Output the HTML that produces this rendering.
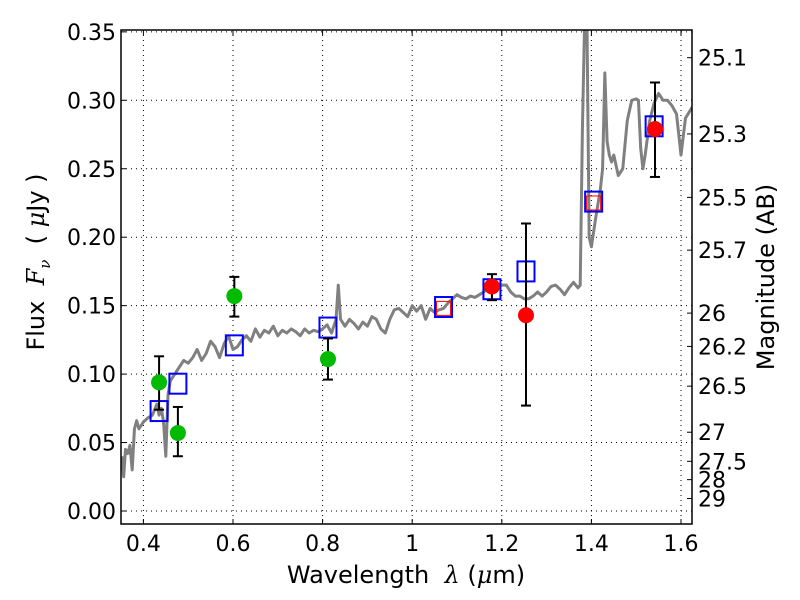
<!DOCTYPE html>
<html><head><meta charset="utf-8"><style>
body{margin:0;background:#fff}
svg{display:block;font-family:"DejaVu Sans","Liberation Sans",sans-serif}
</style></head><body>
<svg id="c" width="800" height="600" viewBox="0 0 800 600"></svg>
<script>
const xTicks=[0.4,0.6,0.8,1.0,1.2,1.4,1.6];
const xTickLabels=["0.4","0.6","0.8","1","1.2","1.4","1.6"];
const yTicks=[0,0.05,0.10,0.15,0.20,0.25,0.30,0.35];
const yTickLabels=["0.00","0.05","0.10","0.15","0.20","0.25","0.30","0.35"];
const magTicks=[25.1,25.3,25.5,25.7,26,26.2,26.5,27,27.5,28,29];
const magLabels=["25.1","25.3","25.5","25.7","26","26.2","26.5","27","27.5","28","29"];
const specWave=[0.352,0.356,0.36,0.365,0.37,0.375,0.38,0.385,0.39,0.40,0.41,0.42,0.43,0.435,0.44,0.445,0.45,0.455,0.46,0.47,0.48,0.49,0.50,0.51,0.52,0.53,0.54,0.55,0.56,0.57,0.58,0.59,0.60,0.61,0.62,0.63,0.64,0.65,0.66,0.67,0.68,0.69,0.70,0.71,0.72,0.73,0.74,0.75,0.76,0.77,0.78,0.79,0.80,0.81,0.82,0.83,0.835,0.84,0.85,0.86,0.87,0.88,0.89,0.90,0.91,0.92,0.93,0.94,0.95,0.96,0.97,0.98,0.99,1.00,1.01,1.02,1.03,1.04,1.05,1.06,1.07,1.08,1.09,1.10,1.11,1.12,1.13,1.14,1.15,1.16,1.17,1.18,1.19,1.20,1.21,1.22,1.23,1.24,1.25,1.26,1.27,1.28,1.29,1.30,1.31,1.32,1.33,1.34,1.35,1.36,1.37,1.375,1.38,1.385,1.39,1.395,1.40,1.41,1.42,1.425,1.43,1.435,1.44,1.445,1.45,1.46,1.47,1.48,1.49,1.50,1.505,1.51,1.515,1.52,1.53,1.54,1.55,1.56,1.57,1.58,1.59,1.60,1.61,1.625];
const specFlux=[0.040,0.025,0.045,0.042,0.048,0.030,0.060,0.066,0.060,0.065,0.068,0.070,0.078,0.070,0.075,0.065,0.040,0.085,0.095,0.100,0.105,0.110,0.108,0.112,0.118,0.110,0.115,0.124,0.120,0.112,0.122,0.128,0.118,0.120,0.125,0.128,0.124,0.133,0.127,0.132,0.130,0.135,0.128,0.132,0.130,0.133,0.131,0.128,0.133,0.130,0.132,0.131,0.133,0.136,0.130,0.140,0.165,0.140,0.135,0.140,0.137,0.133,0.138,0.135,0.142,0.140,0.133,0.130,0.140,0.147,0.148,0.145,0.142,0.150,0.146,0.150,0.140,0.148,0.145,0.147,0.148,0.152,0.155,0.158,0.156,0.155,0.157,0.156,0.158,0.160,0.164,0.163,0.166,0.165,0.165,0.160,0.157,0.157,0.155,0.155,0.157,0.160,0.157,0.160,0.164,0.165,0.162,0.158,0.163,0.167,0.163,0.165,0.280,0.360,0.360,0.200,0.193,0.215,0.235,0.250,0.320,0.270,0.260,0.255,0.260,0.245,0.250,0.285,0.300,0.301,0.300,0.265,0.250,0.260,0.285,0.298,0.305,0.300,0.300,0.296,0.290,0.260,0.287,0.295];
const greenWave=[0.435,0.477,0.603,0.812];
const greenFlux=[0.094,0.057,0.157,0.111];
const greenErrHi=[0.113,0.076,0.171,0.126];
const greenErrLo=[0.074,0.040,0.142,0.096];
const redWave=[1.178,1.254,1.542];
const redFlux=[0.164,0.143,0.279];
const redErrHi=[0.173,0.210,0.313];
const redErrLo=[0.154,0.077,0.244];
const modelWave=[0.435,0.477,0.603,0.812,1.07,1.178,1.254,1.405,1.54];
const modelFlux=[0.073,0.093,0.121,0.134,0.149,0.162,0.175,0.226,0.281];
const redModelWave=[1.07,1.405];
const redModelFlux=[0.148,0.225];

const L=121,R=692,T=30,B=524;
const X=v=>L+(v-0.35)*448;
const Y=v=>511-v*1369;
const svg=document.getElementById('c');
const NS='http://www.w3.org/2000/svg';
function mk(tag,attrs,parent){const e=document.createElementNS(NS,tag);for(const k in attrs)e.setAttribute(k,attrs[k]);(parent||svg).appendChild(e);return e;}

const grid=mk('g',{});


xTicks.forEach((t,i)=>{
  mk('line',{x1:X(t),x2:X(t),y1:T,y2:B,stroke:'#000','stroke-width':1,'stroke-dasharray':'1,4'},grid);
  mk('line',{x1:X(t),x2:X(t),y1:B,y2:B-5,stroke:'#000'},grid);
  mk('line',{x1:X(t),x2:X(t),y1:T,y2:T+5,stroke:'#000'},grid);
  const tx=mk('text',{x:X(t),y:B+27,'font-size':22,'text-anchor':'middle'});
  
  
  tx.textContent=xTickLabels[i];
});
yTicks.forEach((t,i)=>{
  mk('line',{x1:L,x2:R,y1:Y(t),y2:Y(t),stroke:'#000','stroke-width':1,'stroke-dasharray':'1,4'},grid);
  mk('line',{x1:L,x2:L+5,y1:Y(t),y2:Y(t),stroke:'#000'},grid);
  const tx=mk('text',{x:L-5,y:Y(t)+8,'font-size':22,'text-anchor':'end'});
  
  
  tx.textContent=yTickLabels[i];
});
magTicks.forEach((m,i)=>{
  const f=Math.pow(10,-0.4*(m-23.9));
  const y=Y(f);
  mk('line',{x1:R,x2:R-5,y1:y,y2:y,stroke:'#000'});
  const tx=mk('text',{x:R+6,y:y+8,'font-size':22});
  
  
  tx.textContent=magLabels[i];
});

const clip=mk('clipPath',{id:'cp'});
mk('rect',{x:L,y:T,width:R-L,height:B-T},clip);
const plot=mk('g',{'clip-path':'url(#cp)'});
const spec=mk('polyline',{points:specWave.map((w,i)=>X(w)+','+Y(specFlux[i])).join(' '),fill:'none',stroke:'#808080','stroke-width':3,'stroke-linejoin':'round'},plot);



function errbars(ws,hi,lo,name){
  ws.forEach((w,i)=>{
    const g=mk('g',{stroke:'#000','stroke-width':2},plot);
    
    
    mk('line',{x1:X(w),x2:X(w),y1:Y(hi[i]),y2:Y(lo[i])},g);
    mk('line',{x1:X(w)-5,x2:X(w)+5,y1:Y(hi[i]),y2:Y(hi[i])},g);
    mk('line',{x1:X(w)-5,x2:X(w)+5,y1:Y(lo[i]),y2:Y(lo[i])},g);
  });
}
modelWave.forEach((w,i)=>{
  const r=mk('rect',{x:X(w)-8.5,y:Y(modelFlux[i])-10,width:17,height:20,fill:'none',stroke:'#0000ff','stroke-width':2},plot);
  
  
});
redModelWave.forEach((w,i)=>{
  const r=mk('rect',{x:X(w)-7,y:Y(redModelFlux[i])-7,width:14,height:14,fill:'none',stroke:'#ff0000','stroke-width':1},plot);
  
  
});
errbars(greenWave,greenErrHi,greenErrLo,'green-error-bar');
errbars(redWave,redErrHi,redErrLo,'red-error-bar');
greenWave.forEach((w,i)=>{
  const c=mk('circle',{cx:X(w),cy:Y(greenFlux[i]),r:8,fill:'#00bb00'},plot);
  
  
});
redWave.forEach((w,i)=>{
  const c=mk('circle',{cx:X(w),cy:Y(redFlux[i]),r:8,fill:'#ff0000'},plot);
  
  
});
const frame=mk('rect',{x:L,y:T,width:R-L,height:B-T,fill:'none',stroke:'#000','stroke-width':1.5});


</script>
<div style="position:absolute;left:0;top:0;width:800px;height:600px;pointer-events:none;font-family:'DejaVu Sans','Liberation Sans',sans-serif">
<div style="position:absolute;left:406px;top:575px;font-size:24px;white-space:nowrap;transform:translate(-50%,-50%)">Wavelength &nbsp;<i style="font-family:'DejaVu Serif',serif">λ</i> (<i style="font-family:'DejaVu Serif',serif">μ</i>m)</div>
<div style="position:absolute;left:38px;top:262px;font-size:24px;white-space:nowrap;transform:translate(-50%,-50%) rotate(-90deg)">Flux &nbsp;<i style="font-family:'DejaVu Serif',serif">F<sub style="font-size:15px">ν</sub></i> &nbsp;( <i style="font-family:'DejaVu Serif',serif">μ</i>Jy )</div>
<div style="position:absolute;left:766px;top:277px;font-size:24px;white-space:nowrap;transform:translate(-50%,-50%) rotate(-90deg)">Magnitude (AB)</div>
</div>
</body></html>
